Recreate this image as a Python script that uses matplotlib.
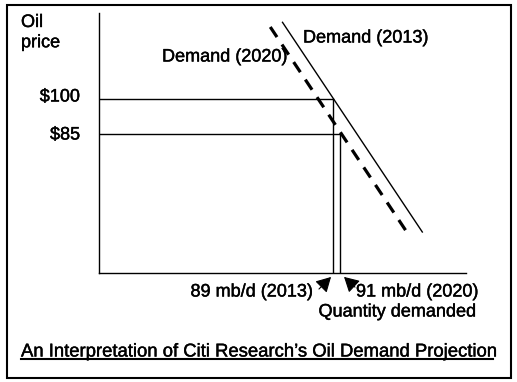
import matplotlib.pyplot as plt
import matplotlib.patheffects as pe
from matplotlib.patches import Rectangle

# Schematic data (quantity in mb/d, price in $)
prices = [100, 85]
price_labels = ['$100', '$85']
quantities = [89, 91]
quantity_labels = ['89 mb/d (2013)', '91 mb/d (2020)']
demand_2013_q = [74.5, 114.5]
demand_2013_p = [133, 43]
demand_2020_q = [71, 110.5]
demand_2020_p = [131, 42]

plt.rcParams['font.family'] = ['Liberation Sans', 'DejaVu Sans']

W, H = 517, 382
fig = plt.figure(figsize=(W / 100, H / 100), dpi=100)

# overlay in pixel coords for frame and labels
ov = fig.add_axes([0, 0, 1, 1])
ov.set_xlim(0, W)
ov.set_ylim(H, 0)
ov.axis('off')

# main chart axes
ax = fig.add_axes([99 / W, (H - 273) / H, (466 - 99) / W, (273 - 13) / H])
ax.set_xlim(22, 127)
ax.set_ylim(25.4, 137)
ax.patch.set_alpha(0)
for s in ['top', 'right']:
    ax.spines[s].set_visible(False)
for s in ['left', 'bottom']:
    ax.spines[s].set_linewidth(1.0)
ax.set_xticks([])
ax.set_yticks([])

x0 = ax.get_xlim()[0]
y0 = ax.get_ylim()[0]

# reference lines at price/quantity pairs
for p, q in zip(prices, quantities):
    ax.plot([x0, q], [p, p], color='black', lw=1.0)
    ax.plot([q, q], [y0, p], color='black', lw=1.0)

ax.plot(demand_2013_q, demand_2013_p, color='black', lw=1.0)
ax.plot(demand_2020_q, demand_2020_p, color='black', lw=2.3,
        linestyle=(0, (3.8, 2.8)))

# outer frame
ov.add_patch(Rectangle((7, 5), 504, 373, fill=False, edgecolor='black', lw=1.5))

# slightly heavier text, like the original
heavy = [pe.withStroke(linewidth=0.3, foreground='black')]
fs = 13

def label(x, y, s, **kw):
    kw.setdefault('fontsize', fs)
    ov.text(x, y, s, path_effects=heavy, **kw)

label(21, 14, 'Oil\nprice', ha='left', va='top', linespacing=1.25)
label(80, 97, price_labels[0], ha='right', va='center')
label(80, 135, price_labels[1], ha='right', va='center')
label(162, 57, 'Demand (2020)', ha='left', va='center')
label(303, 38, 'Demand (2013)', ha='left', va='center')
label(313, 292, quantity_labels[0], ha='right', va='center')
label(356, 292, quantity_labels[1], ha='left', va='center')
label(476, 312, 'Quantity demanded', ha='right', va='center')

# arrows pointing to quantity lines
ov.annotate('', xy=(333, 275), xytext=(317, 291),
            arrowprops=dict(arrowstyle='-|>,head_width=0.5,head_length=0.9',
                            color='black', lw=0.8))
ov.annotate('', xy=(342, 275), xytext=(357, 289),
            arrowprops=dict(arrowstyle='-|>,head_width=0.5,head_length=0.9',
                            color='black', lw=0.8))

label(21, 352, 'An Interpretation of Citi Research\u2019s Oil Demand Projection',
      ha='left', va='center', fontsize=13.3)
ov.plot([21, 493], [359, 359], color='black', lw=1.5)

fig.savefig('out.png', dpi=100)
